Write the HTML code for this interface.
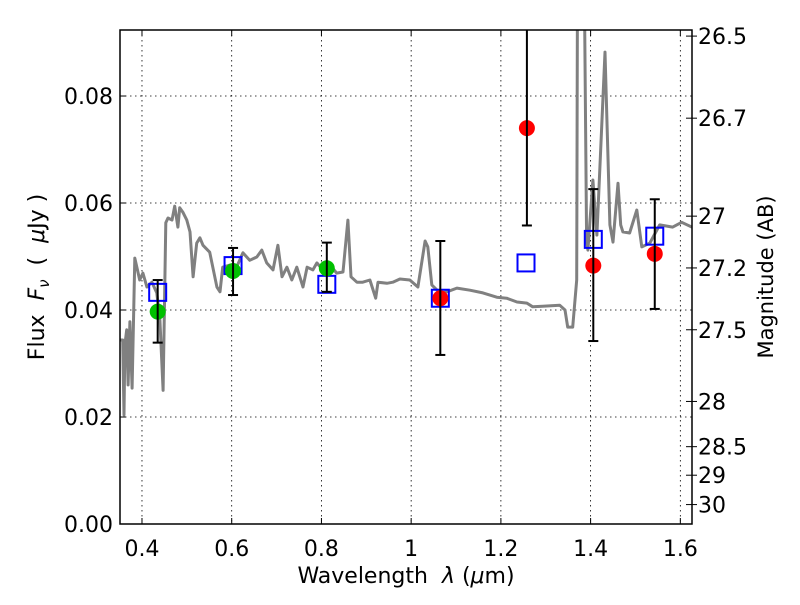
<!DOCTYPE html>
<html><head><meta charset="utf-8"><style>
body{margin:0;background:#fff;}
svg text{font-family:"DejaVu Sans","Liberation Sans",sans-serif;fill:#000;}
</style></head><body>
<svg id="chart" width="800" height="600" viewBox="0 0 800 600" xmlns="http://www.w3.org/2000/svg">
<defs><clipPath id="plotclip"><rect x="120" y="30" width="572" height="494"/></clipPath></defs>
<g id="grid"></g>
<g id="spec" clip-path="url(#plotclip)"></g>
<g id="marks" clip-path="url(#plotclip)"></g>
<rect x="120" y="30" width="572" height="494" fill="none" stroke="#000" stroke-width="1.5"/>
<g id="axes"></g>
<text x="406" y="583" font-size="22" text-anchor="middle" xml:space="preserve">Wavelength  <tspan font-style="italic">λ</tspan> (<tspan font-style="italic">μ</tspan>m)</text>
<text transform="translate(44,277) rotate(-90)" font-size="22" text-anchor="middle" xml:space="preserve">Flux  <tspan font-style="italic">F</tspan><tspan font-style="italic" font-size="15" dy="5">ν</tspan><tspan dy="-5">  (  </tspan><tspan font-style="italic">μ</tspan>Jy )</text>
<text transform="translate(773,277) rotate(-90)" font-size="21" text-anchor="middle">Magnitude (AB)</text>
</svg>
<script>
const specWl=[0.351,0.357,0.360,0.362,0.366,0.369,0.373,0.378,0.384,0.395,0.402,0.411,0.422,0.433,0.440,0.447,0.453,0.458,0.467,0.473,0.480,0.484,0.491,0.500,0.507,0.514,0.522,0.529,0.536,0.551,0.567,0.574,0.580,0.596,0.611,0.625,0.640,0.656,0.667,0.678,0.692,0.703,0.712,0.723,0.734,0.745,0.759,0.768,0.781,0.790,0.803,0.819,0.834,0.848,0.859,0.866,0.879,0.892,0.908,0.921,0.926,0.946,0.959,0.975,0.997,1.015,1.031,1.037,1.046,1.064,1.080,1.102,1.131,1.160,1.191,1.213,1.236,1.258,1.271,1.293,1.331,1.343,1.349,1.360,1.369,1.371,1.378,1.385,1.391,1.394,1.405,1.414,1.432,1.443,1.450,1.461,1.467,1.472,1.487,1.503,1.514,1.532,1.554,1.583,1.603,1.626];
const specFlux=[0.0344,0.0344,0.0204,0.0335,0.0363,0.0260,0.0378,0.0254,0.0497,0.0456,0.0469,0.0443,0.0452,0.0432,0.0381,0.0250,0.0563,0.0572,0.0568,0.0594,0.0555,0.0591,0.0583,0.0568,0.0546,0.0462,0.0525,0.0535,0.0521,0.0508,0.0443,0.0434,0.0480,0.0484,0.0480,0.0507,0.0493,0.0499,0.0512,0.0488,0.0475,0.0521,0.0462,0.0480,0.0456,0.0480,0.0443,0.0480,0.0475,0.0488,0.0475,0.0484,0.0469,0.0471,0.0568,0.0462,0.0452,0.0452,0.0456,0.0422,0.0452,0.0450,0.0452,0.0458,0.0456,0.0443,0.0529,0.0518,0.0447,0.0432,0.0434,0.0441,0.0437,0.0432,0.0424,0.0422,0.0415,0.0413,0.0406,0.0407,0.0409,0.0400,0.0368,0.0368,0.0456,0.11,0.13,0.11,0.0531,0.0512,0.0643,0.0540,0.0882,0.0559,0.0527,0.0637,0.0559,0.0546,0.0544,0.0587,0.0518,0.0525,0.0559,0.0555,0.0564,0.0555];
const obsWl=[0.435,0.603,0.812,1.065,1.258,1.406,1.543];
const obsFlux=[0.0397,0.0473,0.0478,0.0422,0.0740,0.0483,0.0505];
const obsErrHi=[0.0456,0.0516,0.0526,0.0529,0.1000,0.0626,0.0607];
const obsErrLo=[0.0339,0.0428,0.0434,0.0316,0.0558,0.0342,0.0402];
const obsColor=['#00c000','#00c000','#00c000','#ff0000','#ff0000','#ff0000','#ff0000'];
const modelWl=[0.435,0.603,0.812,1.065,1.256,1.406,1.543];
const modelFlux=[0.0433,0.0483,0.0448,0.0422,0.0488,0.0532,0.0538];
const xTicks=[0.4,0.6,0.8,1.0,1.2,1.4,1.6];
const xTickLabels=['0.4','0.6','0.8','1','1.2','1.4','1.6'];
const yTicks=[0,0.02,0.04,0.06,0.08];
const yTickLabels=['0.00','0.02','0.04','0.06','0.08'];
const magTicks=[26.5,26.7,27,27.2,27.5,28,28.5,29,30];
const magTickLabels=['26.5','26.7','27','27.2','27.5','28','28.5','29','30'];

const NS='http://www.w3.org/2000/svg';
const X0=120,X1=692,Y0=524,Y1=30;
const xMin=0.351,xMax=1.626,yMin=0,yMax=0.09234;
function sx(v){return X0+(v-xMin)/(xMax-xMin)*(X1-X0);}
function sy(v){return Y0-(v-yMin)/(yMax-yMin)*(Y0-Y1);}
function magToFlux(m){return Math.pow(10,(23.9-m)/2.5);}
function mk(tag,attrs,parent){const e=document.createElementNS(NS,tag);for(const k in attrs)e.setAttribute(k,attrs[k]);parent.appendChild(e);return e;}
const grid=document.getElementById('grid'),axes=document.getElementById('axes'),spec=document.getElementById('spec'),marks=document.getElementById('marks');

xTicks.forEach((t,i)=>{const x=sx(t);
 let g=mk('line',{x1:x,x2:x,y1:Y1,y2:Y0,stroke:'#000','stroke-width':0.8,'stroke-dasharray':'1.5,3.5'},grid);
 
 
 let a=mk('line',{x1:x,x2:x,y1:Y0,y2:Y0-6,stroke:'#000','stroke-width':1},axes);
 
 
 let b=mk('line',{x1:x,x2:x,y1:Y1,y2:Y1+6,stroke:'#000','stroke-width':1},axes);
 
 
 let tx=mk('text',{x:x,y:556,'font-size':22,'text-anchor':'middle'},axes);tx.textContent=xTickLabels[i];
 
 
});
yTicks.forEach((t,i)=>{const y=sy(t);
 if(t>0){let g=mk('line',{x1:X0,x2:X1,y1:y,y2:y,stroke:'#000','stroke-width':0.8,'stroke-dasharray':'1.5,3.5'},grid);
 
 }
 let a=mk('line',{x1:X0,x2:X0+6,y1:y,y2:y,stroke:'#000','stroke-width':1},axes);
 
 
 let tx=mk('text',{x:113,y:y+8,'font-size':22,'text-anchor':'end'},axes);tx.textContent=yTickLabels[i];
 
 
});
magTicks.forEach((m,i)=>{const y=sy(magToFlux(m));
 let a=mk('line',{x1:X1-6,x2:X1+5,y1:y,y2:y,stroke:'#000','stroke-width':1},axes);
 
 
 let tx=mk('text',{x:698,y:y+8,'font-size':22,'text-anchor':'start'},axes);tx.textContent=magTickLabels[i];
 
 
});

let d=specWl.map((w,i)=>(i?'L':'M')+sx(w).toFixed(1)+','+sy(specFlux[i]).toFixed(1)).join(' ');
let sp=mk('path',{d:d,fill:'none',stroke:'#808080','stroke-width':3,'stroke-linejoin':'round'},spec);



modelWl.forEach((w,i)=>{const x=sx(w),y=sy(modelFlux[i]);
 let r=mk('rect',{x:x-8.5,y:y-8.5,width:17,height:17,fill:'none',stroke:'#0000ff','stroke-width':2},marks);
 
 
});
obsWl.forEach((w,i)=>{const x=sx(w),y=sy(obsFlux[i]);
 let c=mk('circle',{cx:x,cy:y,r:8,fill:obsColor[i]},marks);
 
 
});
obsWl.forEach((w,i)=>{const x=sx(w),yh=sy(obsErrHi[i]),yl=sy(obsErrLo[i]);
 let l=mk('line',{x1:x,x2:x,y1:yh,y2:yl,stroke:'#000','stroke-width':2},marks);
 
 
 let c1=mk('line',{x1:x-5,x2:x+5,y1:yh,y2:yh,stroke:'#000','stroke-width':2},marks);
 
 
 let c2=mk('line',{x1:x-5,x2:x+5,y1:yl,y2:yl,stroke:'#000','stroke-width':2},marks);
 
 
});
</script>
</body></html>
